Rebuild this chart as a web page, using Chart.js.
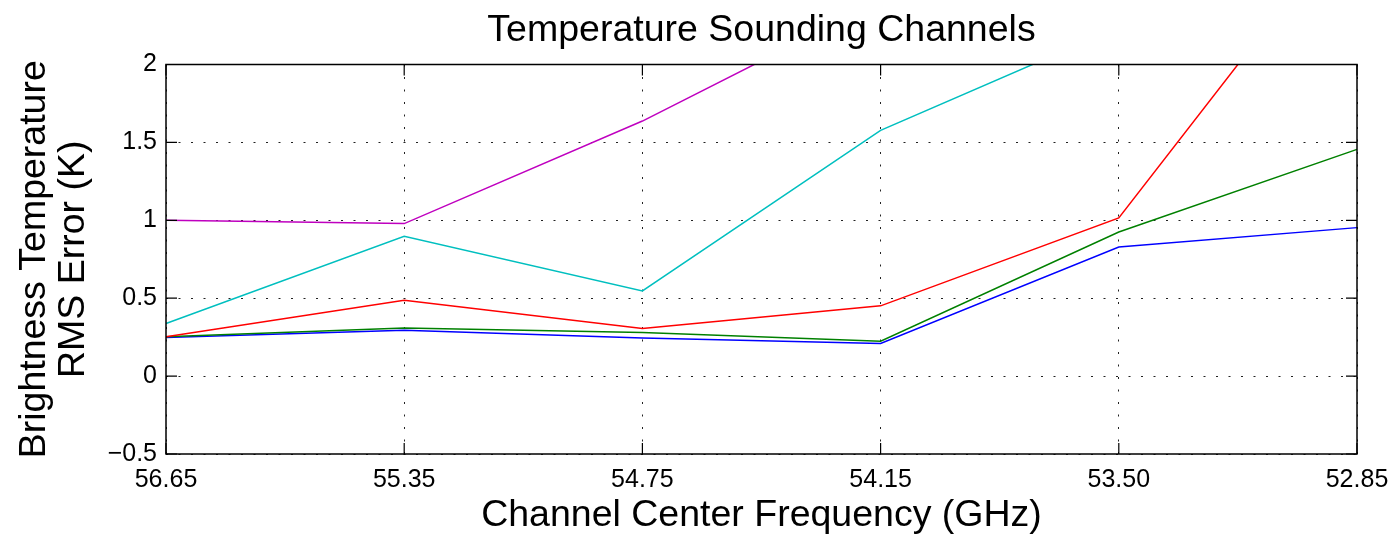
<!DOCTYPE html>
<html>
<head>
<meta charset="utf-8">
<script src="https://cdn.jsdelivr.net/npm/chart.js@4.4.0/dist/chart.umd.min.js"></script>
<style>
  html, body { margin: 0; padding: 0; background: #fff; }
  #wrap { width: 1392px; height: 534px; position: relative; }
</style>
</head>
<body>
<div id="wrap"><canvas id="c"></canvas></div>
<script>
const categories = ['56.65', '55.35', '54.75', '54.15', '53.50', '52.85'];
const blueSeries    = [0.248, 0.295, 0.244, 0.21, 0.829, 0.953];
const greenSeries   = [0.252, 0.308, 0.28, 0.224, 0.925, 1.455];
const redSeries     = [0.252, 0.487, 0.306, 0.451, 1.015, 2.985];
const cyanSeries    = [0.338, 0.897, 0.547, 1.577, 2.24, null];
const magentaSeries = [1.0, 0.979, 1.637, 2.41, null, null];
const yTickValues = [-0.5, 0, 0.5, 1, 1.5, 2];

const FONT = '"Liberation Sans", Arial, Helvetica, sans-serif';

const boxPlugin = {
  id: 'boxPlugin',
  afterDraw(chart) {
    const ctx = chart.ctx;
    const a = chart.chartArea;
    const xs = chart.scales.x, ys = chart.scales.y;
    ctx.save();
    ctx.strokeStyle = '#000';
    ctx.lineWidth = 1.5;
    ctx.strokeRect(a.left, a.top, a.right - a.left, a.bottom - a.top);
    ctx.lineWidth = 1.2;
    const tl = 11;
    ctx.beginPath();
    for (let i = 0; i < categories.length; i++) {
      const x = xs.getPixelForValue(i);
      ctx.moveTo(x, a.bottom); ctx.lineTo(x, a.bottom - tl);
      ctx.moveTo(x, a.top); ctx.lineTo(x, a.top + tl);
    }
    for (const v of yTickValues) {
      const y = ys.getPixelForValue(v);
      ctx.moveTo(a.left, y); ctx.lineTo(a.left + tl, y);
      ctx.moveTo(a.right, y); ctx.lineTo(a.right - tl, y);
    }
    ctx.stroke();
    ctx.restore();
  }
};

const mk = (label, data, color, order) => ({
  label, data, borderColor: color, backgroundColor: color,
  borderWidth: 1.5, pointRadius: 0, tension: 0, fill: false, spanGaps: false, order
});

new Chart(document.getElementById('c'), {
  type: 'line',
  data: {
    labels: categories,
    datasets: [
      mk('m', magentaSeries, '#bf00bf', 1),
      mk('c', cyanSeries, '#00bfbf', 2),
      mk('r', redSeries, '#ff0000', 3),
      mk('g', greenSeries, '#008000', 4),
      mk('b', blueSeries, '#0000ff', 5)
    ]
  },
  options: {
    responsive: true,
    maintainAspectRatio: false,
    animation: false,
    layout: { padding: { left: 0, right: 35, top: 0, bottom: 0 } },
    plugins: {
      legend: { display: false },
      tooltip: { enabled: false },
      title: {
        display: true,
        fullSize: false,
        text: 'Temperature Sounding Channels',
        color: '#000',
        font: { family: FONT, size: 37.5, weight: 'normal', lineHeight: 1 },
        padding: { top: 12, bottom: 15 }
      }
    },
    scales: {
      x: {
        type: 'category',
        offset: false,
        grid: { display: true, drawTicks: false, color: '#222', lineWidth: 1 },
        border: { display: false, dash: [2, 10.5] },
        ticks: { color: '#000', font: { family: FONT, size: 25 }, padding: 11, maxRotation: 0, autoSkip: false },
        title: {
          display: true,
          text: 'Channel Center Frequency (GHz)',
          color: '#000',
          font: { family: FONT, size: 37.5, lineHeight: 1 },
          padding: { top: 0, bottom: 0 }
        },
        afterFit(s) { s.height = 80; s.paddingLeft = 0; s.paddingRight = 0; }
      },
      y: {
        min: -0.5, max: 2,
        afterBuildTicks(s) { s.ticks = yTickValues.map(v => ({ value: v })); },
        grid: { display: true, drawTicks: false, color: '#222', lineWidth: 1 },
        border: { display: false, dash: [2, 10.5] },
        ticks: {
          color: '#000', font: { family: FONT, size: 25 }, padding: 9,
          callback: v => (v < 0 ? '\u2212' + String(Math.abs(v)) : String(v))
        },
        title: {
          display: true,
          text: ['Brightness Temperature', 'RMS Error (K)'],
          color: '#000',
          font: { family: FONT, size: 37.5, lineHeight: 1.02 },
          padding: { top: 16, bottom: 0 }
        },
        afterFit(s) { s.width = 166; }
      }
    }
  },
  plugins: [boxPlugin]
});
</script>
</body>
</html>
